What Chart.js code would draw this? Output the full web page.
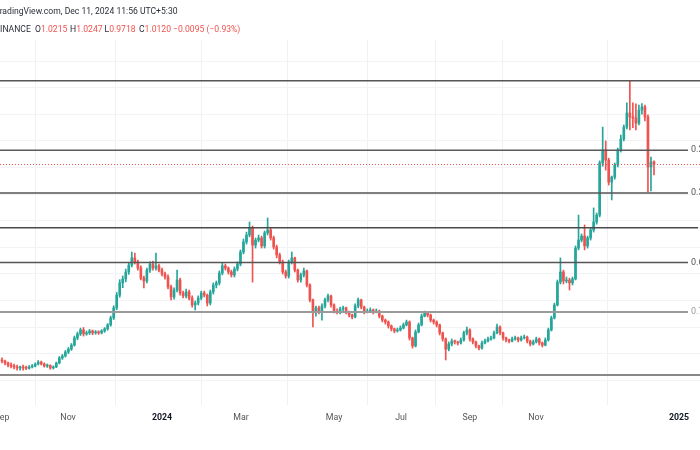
<!DOCTYPE html>
<html><head><meta charset="utf-8">
<script src="https://cdn.jsdelivr.net/npm/chart.js@4.4.1/dist/chart.umd.min.js"></script>
<style>
html,body{margin:0;padding:0;background:#fff;overflow:hidden}
#wrap{position:relative;width:700px;height:450px;background:#fff}
canvas{position:absolute;left:0;top:0}
.hdr{position:absolute;font-family:Roboto,sans-serif;font-size:8.6px;line-height:10px;white-space:nowrap;color:#2a2e39}
.v{color:#ef5350}
</style></head>
<body><div id="wrap"><canvas id="c" width="700" height="450"></canvas>
<div class="hdr" style="left:-5.2px;top:6px">TradingView.com, Dec 11, 2024 11:56 UTC+5:30</div>
<div class="hdr" style="left:-5.3px;top:24px">BINANCE</div>
<div class="hdr" style="left:35px;top:24px">O<span class="v">1.0215</span></div>
<div class="hdr" style="left:70px;top:24px">H<span class="v">1.0247</span></div>
<div class="hdr" style="left:104.5px;top:24px">L<span class="v">0.9718</span></div>
<div class="hdr" style="left:139px;top:24px">C<span class="v">1.0120</span></div>
<div class="hdr v" style="left:173px;top:24px">−0.0095 (−0.93%)</div>
</div>
<script>
// ADA/USDT daily-ish candles
const open = [0.276,0.272,0.265,0.257,0.253,0.250,0.246,0.250,0.247,0.245,
0.250,0.253,0.261,0.268,0.261,0.253,0.255,0.246,0.250,0.265,
0.284,0.291,0.306,0.317,0.332,0.359,0.374,0.389,0.374,0.378,
0.385,0.378,0.381,0.378,0.385,0.393,0.408,0.434,0.472,0.520,
0.566,0.581,0.607,0.633,0.660,0.645,0.622,0.584,0.573,0.614,
0.637,0.622,0.630,0.614,0.599,0.588,0.551,0.513,0.539,0.577,
0.528,0.517,0.532,0.509,0.483,0.490,0.509,0.528,0.520,0.490,
0.532,0.558,0.566,0.603,0.630,0.622,0.607,0.596,0.618,0.637,
0.682,0.720,0.746,0.772,0.708,0.727,0.735,0.705,0.754,0.765,
0.735,0.701,0.671,0.645,0.607,0.592,0.645,0.660,0.614,0.577,
0.596,0.611,0.558,0.502,0.456,0.472,0.456,0.479,0.502,0.517,
0.483,0.460,0.456,0.468,0.472,0.456,0.445,0.438,0.479,0.502,
0.475,0.456,0.460,0.464,0.456,0.460,0.441,0.426,0.419,0.404,
0.393,0.385,0.389,0.396,0.408,0.419,0.359,0.329,0.381,0.408,
0.441,0.453,0.445,0.426,0.419,0.408,0.378,0.355,0.317,0.336,
0.347,0.344,0.340,0.351,0.378,0.389,0.355,0.344,0.329,0.321,
0.340,0.347,0.355,0.359,0.378,0.400,0.378,0.359,0.351,0.347,
0.355,0.359,0.351,0.359,0.362,0.347,0.336,0.344,0.355,0.340,
0.332,0.351,0.389,0.434,0.483,0.569,0.607,0.573,0.577,0.566,
0.581,0.697,0.727,0.742,0.705,0.735,0.765,0.795,0.821,1.017,
1.066,1.028,0.945,0.964,1.009,1.066,1.107,1.152,1.205,1.190,
1.186,1.167,1.216,1.228,1.190,1.002,1.0215];
const high = [0.284,0.276,0.268,0.265,0.261,0.257,0.253,0.257,0.253,0.255,
0.259,0.265,0.274,0.272,0.265,0.261,0.258,0.254,0.268,0.289,
0.297,0.312,0.323,0.338,0.366,0.381,0.396,0.398,0.385,0.391,
0.389,0.387,0.386,0.390,0.398,0.413,0.441,0.480,0.530,0.578,
0.592,0.618,0.641,0.682,0.678,0.652,0.630,0.592,0.622,0.645,
0.648,0.678,0.637,0.622,0.607,0.596,0.558,0.547,0.614,0.584,
0.535,0.543,0.539,0.517,0.498,0.517,0.535,0.535,0.524,0.539,
0.566,0.573,0.611,0.641,0.637,0.626,0.614,0.626,0.645,0.690,
0.731,0.757,0.795,0.780,0.735,0.746,0.742,0.761,0.810,0.772,
0.742,0.708,0.678,0.652,0.614,0.652,0.682,0.663,0.618,0.603,
0.622,0.614,0.562,0.505,0.479,0.479,0.487,0.509,0.524,0.520,
0.487,0.468,0.475,0.479,0.475,0.460,0.449,0.487,0.509,0.505,
0.479,0.468,0.472,0.468,0.468,0.464,0.445,0.430,0.423,0.408,
0.396,0.396,0.404,0.415,0.426,0.423,0.362,0.389,0.415,0.449,
0.460,0.456,0.449,0.430,0.423,0.411,0.381,0.359,0.344,0.355,
0.351,0.347,0.359,0.385,0.400,0.393,0.359,0.347,0.332,0.347,
0.355,0.362,0.366,0.385,0.411,0.404,0.381,0.362,0.355,0.362,
0.366,0.362,0.366,0.370,0.366,0.351,0.351,0.362,0.359,0.344,
0.359,0.396,0.441,0.490,0.577,0.660,0.614,0.588,0.584,0.588,
0.705,0.821,0.750,0.784,0.742,0.772,0.848,0.829,1.025,1.152,
1.100,1.035,0.968,1.017,1.073,1.122,1.160,1.243,1.326,1.243,
1.239,1.235,1.240,1.235,1.198,1.039,1.0247];
const low = [0.265,0.257,0.250,0.246,0.242,0.238,0.238,0.238,0.240,0.241,
0.246,0.250,0.257,0.257,0.249,0.248,0.241,0.242,0.247,0.261,
0.278,0.287,0.300,0.312,0.328,0.352,0.368,0.366,0.369,0.372,
0.371,0.373,0.372,0.374,0.380,0.388,0.403,0.428,0.465,0.512,
0.548,0.570,0.598,0.626,0.637,0.614,0.577,0.547,0.566,0.605,
0.614,0.614,0.607,0.592,0.580,0.543,0.502,0.505,0.532,0.520,
0.509,0.509,0.502,0.475,0.464,0.483,0.502,0.513,0.479,0.483,
0.524,0.547,0.558,0.596,0.614,0.599,0.588,0.588,0.611,0.630,
0.675,0.712,0.739,0.569,0.697,0.720,0.697,0.697,0.746,0.727,
0.693,0.660,0.637,0.599,0.584,0.584,0.637,0.607,0.569,0.569,
0.588,0.551,0.494,0.400,0.441,0.449,0.426,0.472,0.494,0.475,
0.453,0.449,0.449,0.460,0.449,0.438,0.430,0.434,0.472,0.468,
0.449,0.453,0.456,0.449,0.453,0.434,0.419,0.411,0.396,0.385,
0.378,0.381,0.385,0.393,0.404,0.351,0.321,0.325,0.378,0.404,
0.438,0.438,0.419,0.411,0.400,0.370,0.347,0.276,0.310,0.329,
0.336,0.332,0.336,0.347,0.370,0.347,0.336,0.321,0.314,0.317,
0.336,0.344,0.351,0.355,0.374,0.370,0.351,0.344,0.340,0.344,
0.351,0.344,0.347,0.355,0.340,0.329,0.332,0.340,0.332,0.325,
0.329,0.347,0.385,0.430,0.479,0.562,0.562,0.566,0.539,0.558,
0.577,0.690,0.720,0.690,0.697,0.727,0.757,0.787,0.814,1.005,
0.990,0.934,0.878,0.956,1.002,1.058,1.100,1.145,1.141,1.150,
1.141,1.160,1.201,1.175,0.908,0.912,0.9718];
const close = [0.272,0.265,0.257,0.253,0.250,0.246,0.250,0.246,0.245,0.250,
0.253,0.261,0.268,0.261,0.253,0.255,0.246,0.250,0.265,0.284,
0.291,0.306,0.317,0.332,0.359,0.374,0.389,0.374,0.378,0.385,
0.378,0.381,0.378,0.385,0.393,0.408,0.434,0.472,0.520,0.566,
0.581,0.607,0.633,0.660,0.645,0.622,0.584,0.573,0.614,0.637,
0.622,0.630,0.614,0.599,0.588,0.551,0.513,0.539,0.577,0.528,
0.517,0.532,0.509,0.483,0.490,0.509,0.528,0.520,0.490,0.532,
0.558,0.566,0.603,0.630,0.622,0.607,0.596,0.618,0.637,0.682,
0.720,0.746,0.772,0.708,0.727,0.735,0.705,0.754,0.765,0.735,
0.701,0.671,0.645,0.607,0.592,0.645,0.660,0.614,0.577,0.596,
0.611,0.558,0.502,0.456,0.472,0.456,0.479,0.502,0.517,0.483,
0.460,0.456,0.468,0.472,0.456,0.445,0.438,0.479,0.502,0.475,
0.456,0.460,0.464,0.456,0.460,0.441,0.426,0.419,0.404,0.393,
0.385,0.389,0.396,0.408,0.419,0.359,0.329,0.381,0.408,0.441,
0.453,0.445,0.426,0.419,0.408,0.378,0.355,0.317,0.336,0.347,
0.344,0.340,0.351,0.378,0.389,0.355,0.344,0.329,0.321,0.340,
0.347,0.355,0.359,0.378,0.400,0.378,0.359,0.351,0.347,0.355,
0.359,0.351,0.359,0.362,0.347,0.336,0.344,0.355,0.340,0.332,
0.351,0.389,0.434,0.483,0.569,0.607,0.573,0.577,0.566,0.581,
0.697,0.727,0.742,0.705,0.735,0.765,0.795,0.821,1.017,1.066,
1.028,0.945,0.964,1.009,1.066,1.107,1.152,1.205,1.190,1.186,
1.167,1.216,1.228,1.190,1.002,1.021,1.0120];

// time axis ticks (bar index of each label) and labels
const xTickPos = [0, 21.9, 53.0, 79.2, 110.0, 132.2, 155.0, 176.9, 224.3];
const xTickLabels = ['Sep','Nov','2024','Mar','May','Jul','Sep','Nov','2025'];
// price grid values
const yGrid = [0.2,0.3,0.4,0.5,0.6,0.7,0.8,0.9,1.0,1.1,1.2,1.3,1.4];
// Fibonacci retracement drawing
const fibHigh = 1.3264;
const fibLow = 0.2200;
const fibLevels = [0, 0.236, 0.382, 0.5, 0.618, 0.786, 1];

const fibStyle = {colors:['#555','#5a5a5a','#555','#4a4a4a','#555','#9a9a9a','#888'],
                  widths:[1.5,1.5,1.5,1.5,1.5,2,2]};
const UP = '#26a69a', DN = '#ef5350';
const idx = close.map((_, i) => i);
const cols = idx.map(i => close[i] >= open[i] ? UP : DN);

const overlay = {
  id: 'overlay',
  afterDatasetsDraw(chart) {
    const {ctx, chartArea: a, scales: {y}} = chart;
    ctx.save();
    const yc = Math.round(y.getPixelForValue(close[close.length - 1])) + 0.5;
    ctx.strokeStyle = DN; ctx.lineWidth = 1; ctx.setLineDash([1, 2]);
    ctx.beginPath(); ctx.moveTo(a.left, yc); ctx.lineTo(a.right, yc); ctx.stroke();
    ctx.setLineDash([]);
    ctx.font = '9px Roboto'; ctx.textBaseline = 'middle'; ctx.textAlign = 'left';
    const lab = f => f + '(' + (fibHigh - f * (fibHigh - fibLow)).toFixed(4) + ')';
    const right = a.left + 691 + ctx.measureText(lab(0.236)).width;
    fibLevels.forEach((f, k) => {
      const py = y.getPixelForValue(fibHigh - f * (fibHigh - fibLow));
      const t = lab(f), w = ctx.measureText(t).width, sx = right - w;
      ctx.strokeStyle = fibStyle.colors[k]; ctx.lineWidth = fibStyle.widths[k];
      ctx.beginPath(); ctx.moveTo(a.left, py); ctx.lineTo(sx - 3, py); ctx.stroke();
      ctx.fillStyle = fibStyle.colors[k]; ctx.fillText(t, sx, py);
    });
    ctx.restore();
  }
};

new Chart(document.getElementById('c'), {
  type: 'bar',
  data: {
    datasets: [
      {data: idx.map(i => ({x: i, y: [low[i], high[i]]})), backgroundColor: cols,
       barThickness: 1, grouped: false, borderWidth: 0, order: 2},
      {data: idx.map(i => ({x: i, y: [open[i], close[i]]})), backgroundColor: cols,
       barThickness: 2, minBarLength: 1, grouped: false, borderWidth: 0, order: 1}
    ]
  },
  options: {
    responsive: false, animation: false, devicePixelRatio: 1,
    layout: {padding: {top: 40, left: 0, right: 0, bottom: 0}},
    plugins: {legend: {display: false}, tooltip: {enabled: false}},
    scales: {
      x: {type: 'linear', min: -0.6626, max: 231.24, offset: false,
          afterBuildTicks: s => { s.ticks = xTickPos.map(v => ({value: v})); },
          afterFit: s => { s.height = 45; s.paddingLeft = 0; s.paddingRight = 0; },
          ticks: {autoSkip: false, maxRotation: 0, padding: 8,
                  callback: (v, i) => xTickLabels[i],
                  color: c => /^20/.test(xTickLabels[c.index]) ? '#131722' : '#555',
                  font: c => ({family: 'Roboto', size: 8.8,
                               weight: /^20/.test(xTickLabels[c.index]) ? 'bold' : 'normal'})},
          grid: {color: '#f0f1f4', drawTicks: false}, border: {display: false}},
      y: {type: 'linear', position: 'right', min: 0.1067, max: 1.4795,
          afterBuildTicks: s => { s.ticks = yGrid.map(v => ({value: v})); },
          afterFit: s => { s.width = 0; s.paddingTop = 0; s.paddingBottom = 0; },
          ticks: {display: false},
          grid: {color: '#f2f3f6', drawTicks: false}, border: {display: false}}
    }
  },
  plugins: [overlay]
});
</script>
</body></html>
